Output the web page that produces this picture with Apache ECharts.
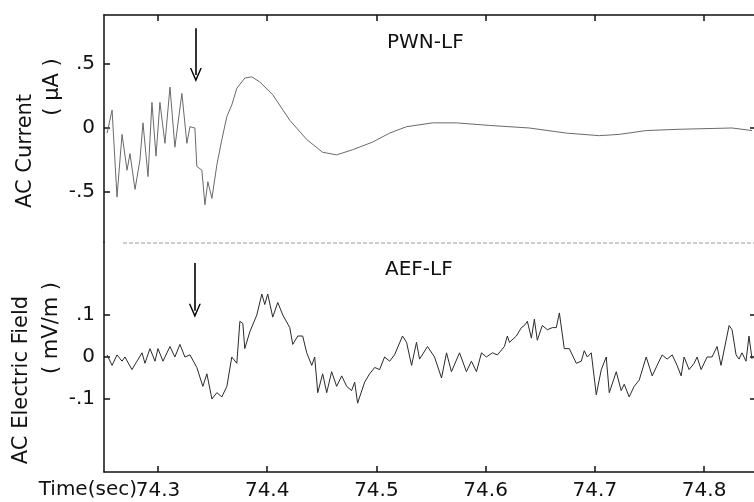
<!DOCTYPE html>
<html>
<head>
<meta charset="utf-8">
<script src="https://cdn.jsdelivr.net/npm/echarts@6/dist/echarts.min.js"></script>
<style>
  html, body { margin: 0; padding: 0; background: #fff; }
  #main { width: 754px; height: 502px; }
</style>
</head>
<body>
<div id="main"></div>
<script>
// time axis (sec) and tick labels
var timeTicks = [74.3, 74.4, 74.5, 74.6, 74.7, 74.8];
var currentTicks = [-0.5, 0, 0.5];
var fieldTicks = [-0.1, 0, 0.1];

// PWN-LF : AC current (uA)
var pwnTime = [74.2534, 74.2580, 74.2625, 74.2671, 74.2717, 74.2744, 74.2790, 74.2835, 74.2863, 74.2909,
  74.2945, 74.2982, 74.3018, 74.3064, 74.3110, 74.3155, 74.3219, 74.3265, 74.3293, 74.3338,
  74.3356, 74.3402, 74.3430, 74.3457, 74.3494, 74.3539, 74.3585, 74.3631, 74.3676, 74.3722,
  74.3795, 74.3859, 74.3932, 74.4051, 74.4207, 74.4362, 74.4508, 74.4636, 74.4782, 74.4965,
  74.5121, 74.5276, 74.5514, 74.5733, 74.6035, 74.6400, 74.6739, 74.7040, 74.7223, 74.7470,
  74.7771, 74.8256, 74.8439];
var pwnValue = [-0.04, 0.14, -0.54, -0.05, -0.33, -0.20, -0.48, -0.25, 0.04, -0.38,
  0.20, -0.22, 0.20, -0.12, 0.32, -0.15, 0.27, -0.12, 0.01, 0.00,
  -0.30, -0.33, -0.60, -0.42, -0.55, -0.29, -0.09, 0.09, 0.18, 0.31,
  0.39, 0.40, 0.36, 0.26, 0.06, -0.09, -0.19, -0.21, -0.17, -0.11,
  -0.04, 0.01, 0.04, 0.04, 0.02, 0.00, -0.04, -0.06, -0.05, -0.02,
  -0.01, 0.00, -0.02];

// AEF-LF : AC electric field (mV/m)
var aefTime = [74.2534, 74.2580, 74.2625, 74.2671, 74.2698, 74.2762, 74.2808, 74.2854, 74.2881, 74.2927,
  74.2973, 74.3000, 74.3046, 74.3110, 74.3155, 74.3201, 74.3247, 74.3293, 74.3356, 74.3411,
  74.3448, 74.3494, 74.3539, 74.3585, 74.3631, 74.3676, 74.3722, 74.3750, 74.3777, 74.3795,
  74.3841, 74.3905, 74.3951, 74.3978, 74.4005, 74.4051, 74.4097, 74.4143, 74.4207, 74.4234,
  74.4280, 74.4325, 74.4362, 74.4408, 74.4435, 74.4463, 74.4508, 74.4545, 74.4590, 74.4636,
  74.4682, 74.4728, 74.4773, 74.4801, 74.4828, 74.4892, 74.4938, 74.4984, 74.5029, 74.5075,
  74.5121, 74.5166, 74.5239, 74.5276, 74.5322, 74.5367, 74.5395, 74.5468, 74.5532, 74.5596,
  74.5642, 74.5687, 74.5761, 74.5824, 74.5870, 74.5916, 74.5962, 74.6007, 74.6062, 74.6108,
  74.6172, 74.6199, 74.6218, 74.6282, 74.6327, 74.6355, 74.6382, 74.6419, 74.6446, 74.6473,
  74.6519, 74.6565, 74.6611, 74.6647, 74.6675, 74.6720, 74.6766, 74.6830, 74.6876, 74.6903,
  74.6931, 74.6967, 74.7013, 74.7059, 74.7104, 74.7132, 74.7196, 74.7241, 74.7269, 74.7314,
  74.7360, 74.7406, 74.7470, 74.7525, 74.7570, 74.7616, 74.7662, 74.7708, 74.7753, 74.7790,
  74.7817, 74.7863, 74.7909, 74.7936, 74.7973, 74.8027, 74.8073, 74.8119, 74.8155, 74.8229,
  74.8256, 74.8293, 74.8320, 74.8347, 74.8384, 74.8411, 74.8439];
var aefValue = [0.005, -0.02, 0.005, -0.01, 0, -0.03, -0.01, 0.01, -0.015, 0.02,
  -0.01, 0.02, -0.01, 0.025, 0, 0.03, 0, 0.005, -0.025, -0.07,
  -0.04, -0.1, -0.085, -0.095, -0.07, 0, -0.015, 0.085, 0.08, 0.02,
  0.06, 0.1, 0.15, 0.125, 0.15, 0.095, 0.13, 0.1, 0.07, 0.03,
  0.05, 0.05, 0.01, -0.02, 0, -0.085, -0.04, -0.085, -0.035, -0.07,
  -0.045, -0.07, -0.08, -0.06, -0.11, -0.06, -0.04, -0.025, -0.03, 0,
  -0.01, 0.005, 0.05, 0.035, -0.02, 0.035, -0.005, 0.025, 0, -0.05,
  0.01, -0.035, 0.01, -0.035, -0.01, -0.035, 0.01, 0, 0.01, 0.005,
  0.025, 0.05, 0.035, 0.05, 0.07, 0.075, 0.085, 0.045, 0.09, 0.04,
  0.075, 0.065, 0.07, 0.07, 0.105, 0.02, 0.02, -0.015, -0.01, 0.015,
  0, 0.01, -0.09, -0.03, 0, -0.085, -0.035, -0.08, -0.065, -0.095,
  -0.07, -0.055, 0, -0.045, -0.02, 0.005, -0.005, 0.005, -0.02, -0.045,
  0, -0.03, -0.015, 0, -0.03, 0, 0, 0.025, -0.02, 0.075,
  0.065, 0.005, -0.005, 0.01, -0.01, 0.05, -0.005];

// arrow markers: [time, from, to]
var pwnArrow = [74.3347, 0.78, 0.414];
var aefArrow = [74.3338, 0.224, 0.11];

function zip(xs, ys) {
  return xs.map(function (x, i) { return [x, ys[i]]; });
}

function tickFmt(v) {
  if (v === 0) return '0';
  var s = String(Math.abs(v)).split('.')[1];
  return (v < 0 ? '-.' : '.') + s;
}

var FONT = '"DejaVu Sans", sans-serif';
var INK = '#111';
var arrowHead = 'path://M5,0 L10,11 L8.8,11 L5,3 L1.2,11 L0,11 Z';

function timeAxis(grid, pos, labels) {
  return {
    type: 'value', gridIndex: grid, position: pos,
    min: 74.2506, max: 74.8457,
    axisLine: { show: true, onZero: false, lineStyle: { color: INK, width: 1.5 } },
    axisTick: { show: true, inside: true, length: 6, customValues: timeTicks, lineStyle: { color: INK, width: 1.5 } },
    axisLabel: labels ? {
      customValues: timeTicks, fontSize: 20, fontFamily: FONT, color: INK, margin: 9,
      formatter: function (v) { return v.toFixed(1); }
    } : { show: false },
    splitLine: { show: false }
  };
}

function valueAxis(grid, pos, min, max, ticks, labels) {
  return {
    type: 'value', gridIndex: grid, position: pos, min: min, max: max,
    axisLine: { show: pos === 'left', onZero: false, lineStyle: { color: INK, width: 1.5 } },
    axisTick: { show: true, inside: true, length: pos === 'left' ? 6 : 4, customValues: ticks, lineStyle: { color: INK, width: 1.5 } },
    axisLabel: labels ? {
      customValues: ticks, fontSize: 20, fontFamily: FONT, color: INK, margin: 9, formatter: tickFmt
    } : { show: false },
    splitLine: { show: false }
  };
}

function arrowLine(a) {
  return {
    silent: true,
    symbol: ['none', arrowHead],
    symbolSize: [12, 14],
    lineStyle: { color: '#000', width: 1.6, type: 'solid' },
    label: { show: false },
    data: [[{ coord: [a[0], a[1]] }, { coord: [a[0], a[2]] }]]
  };
}

var chart = echarts.init(document.getElementById('main'));
chart.setOption({
  animation: false,
  backgroundColor: '#fff',
  grid: [
    { left: 104, right: -1, top: 15, height: 227 },
    { left: 104, right: -1, top: 242, height: 230 }
  ],
  xAxis: [timeAxis(0, 'top', false), timeAxis(1, 'bottom', true)],
  yAxis: [
    valueAxis(0, 'left', -0.891, 0.883, currentTicks, true),
    valueAxis(1, 'left', -0.274, 0.274, fieldTicks, true),
    valueAxis(0, 'right', -0.891, 0.883, [0], false),
    valueAxis(1, 'right', -0.274, 0.274, fieldTicks, false)
  ],
  series: [
    {
      name: 'PWN-LF', type: 'line', xAxisIndex: 0, yAxisIndex: 0,
      data: zip(pwnTime, pwnValue), showSymbol: false,
      lineStyle: { color: '#6a6a6a', width: 1 },
      markLine: arrowLine(pwnArrow)
    },
    {
      name: 'AEF-LF', type: 'line', xAxisIndex: 1, yAxisIndex: 1,
      data: zip(aefTime, aefValue), showSymbol: false,
      lineStyle: { color: '#2a2a2a', width: 1 },
      markLine: arrowLine(aefArrow)
    }
  ],
  graphic: [
    { type: 'line', shape: { x1: 123, y1: 243, x2: 754, y2: 243 }, style: { stroke: '#9a9a9a', lineWidth: 1, lineDash: [4, 2] } },
    { type: 'text', x: 387, y: 43, style: { text: 'PWN-LF', font: '20px ' + FONT, fill: INK, verticalAlign: 'middle' } },
    { type: 'text', x: 385, y: 270, style: { text: 'AEF-LF', font: '20px ' + FONT, fill: INK, verticalAlign: 'middle' } },
    { type: 'text', x: 26, y: 151, rotation: Math.PI / 2, style: { text: 'AC Current', font: '21px ' + FONT, fill: INK, align: 'center', verticalAlign: 'middle' } },
    { type: 'text', x: 53, y: 87, rotation: Math.PI / 2, style: { text: '( μA )', font: '21px ' + FONT, fill: INK, align: 'center', verticalAlign: 'middle' } },
    { type: 'text', x: 22, y: 380, rotation: Math.PI / 2, style: { text: 'AC Electric Field', font: '21px ' + FONT, fill: INK, align: 'center', verticalAlign: 'middle' } },
    { type: 'text', x: 52, y: 328, rotation: Math.PI / 2, style: { text: '( mV/m )', font: '21px ' + FONT, fill: INK, align: 'center', verticalAlign: 'middle' } },
    { type: 'text', x: 137, y: 490, style: { text: 'Time(sec)', font: '20px ' + FONT, fill: INK, align: 'right', verticalAlign: 'middle' } }
  ]
});
</script>
</body>
</html>
